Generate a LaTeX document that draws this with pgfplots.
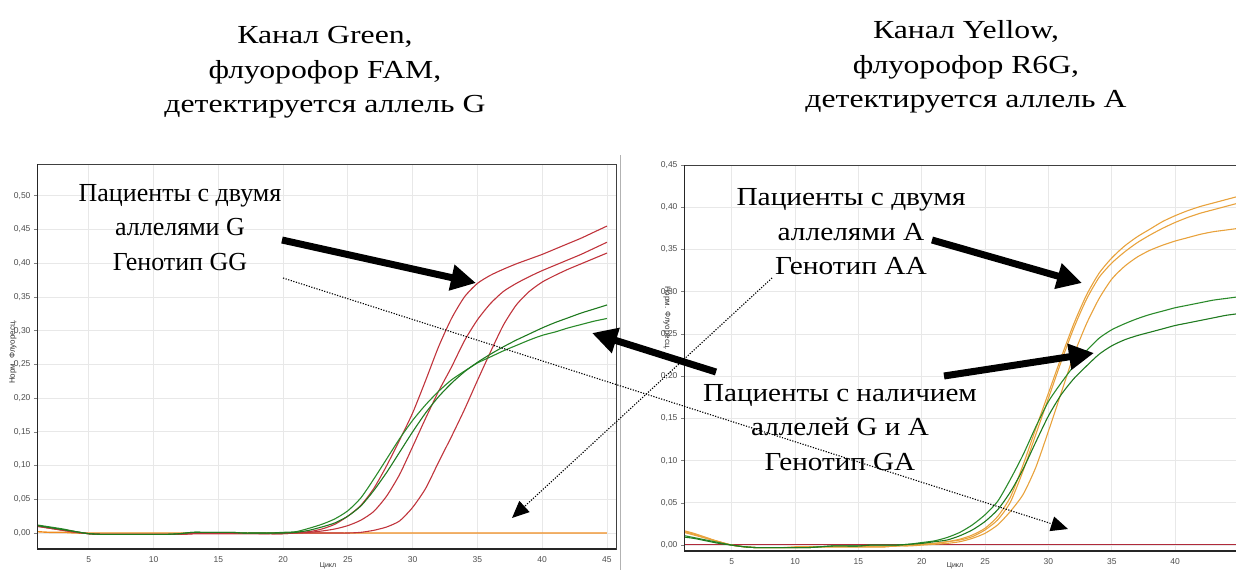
\documentclass[border=0pt]{standalone}
\usepackage{fontspec}
\setmainfont{Liberation Serif}
\newfontfamily\arial{Liberation Sans}
\usepackage{pgfplots}
\usepackage{pgfplotstable}
\usepackage{graphicx}
\pgfplotsset{compat=1.18}
\usetikzlibrary{arrows.meta}

\definecolor{cred}{HTML}{C0343C}
\definecolor{cgreen}{HTML}{2A8A2A}
\definecolor{cgreenb}{HTML}{1F7A1F}
\definecolor{corangeL}{HTML}{F08C1E}
\definecolor{corange}{HTML}{E8A23C}
\definecolor{credR}{HTML}{B02A3A}

\pgfplotstableread{
c  r1     r2     r3     g1     g2     o
1  0.011  0.010  0.010  0.012  0.011  0.002
2  0.008  0.007  0.007  0.009  0.008  0.001
3  0.005  0.004  0.004  0.006  0.005  0.001
4  0.002  0.001  0.001  0.002  0.002  0.000
5  -0.001 -0.001 -0.001 -0.001 -0.001 0.000
6  -0.002 -0.002 -0.002 -0.002 -0.002 0.000
7  -0.002 -0.002 -0.002 -0.002 -0.002 0.000
8  -0.002 -0.002 -0.002 -0.002 -0.002 0.000
9  -0.002 -0.002 -0.002 -0.002 -0.002 0.000
10 -0.002 -0.002 -0.002 -0.002 -0.002 0.000
11 -0.002 -0.002 -0.002 -0.002 -0.002 0.000
12 -0.002 -0.002 -0.002 -0.001 -0.001 0.000
13 -0.001 -0.001 -0.001 0.001  0.001  0.000
14 -0.001 -0.001 -0.001 0.001  0.001  0.000
15 -0.001 -0.001 -0.001 0.001  0.001  0.000
16 -0.001 -0.001 -0.001 0.001  0.001  0.000
17 -0.001 -0.001 -0.001 0.000  0.000  0.000
18 -0.001 -0.001 -0.001 0.000  0.000  0.000
19 -0.001 -0.001 -0.001 0.000  0.000  0.000
20 0.000  -0.001 -0.001 0.001  0.000  0.000
21 0.001  0.000  0.000  0.002  0.001  0.000
22 0.002  0.001  0.000  0.007  0.004  0.000
23 0.006  0.003  0.000  0.013  0.009  0.000
24 0.013  0.006  0.000  0.021  0.015  0.000
25 0.025  0.011  0.000  0.033  0.025  0.000
26 0.041  0.019  0.001  0.052  0.040  0.000
27 0.066  0.032  0.004  0.080  0.063  0.000
28 0.100  0.055  0.009  0.110  0.090  0.000
29 0.138  0.087  0.018  0.140  0.120  0.000
30 0.178  0.128  0.038  0.167  0.150  0.000
31 0.226  0.170  0.066  0.190  0.178  0.000
32 0.276  0.210  0.105  0.210  0.202  0.000
33 0.318  0.246  0.143  0.227  0.222  0.000
34 0.350  0.285  0.183  0.240  0.239  0.000
35 0.370  0.316  0.226  0.252  0.253  0.000
36 0.382  0.340  0.268  0.261  0.265  0.000
37 0.391  0.358  0.308  0.270  0.276  0.000
38 0.399  0.370  0.338  0.278  0.286  0.000
39 0.406  0.380  0.358  0.286  0.295  0.000
40 0.413  0.389  0.372  0.293  0.304  0.000
41 0.421  0.397  0.382  0.298  0.312  0.000
42 0.429  0.405  0.391  0.304  0.319  0.000
43 0.437  0.413  0.399  0.309  0.326  0.000
44 0.446  0.422  0.407  0.314  0.332  0.000
45 0.455  0.431  0.415  0.318  0.338  0.000
}\greentab

\pgfplotstableread{
c  o1     o2     o3     g1     g2     r
1  0.017  0.016  0.018  0.012  0.010  0.001
2  0.013  0.012  0.014  0.009  0.008  0.001
3  0.008  0.008  0.009  0.006  0.005  0.001
4  0.004  0.004  0.004  0.003  0.002  0.001
5  0.000  0.000  0.000  0.000  0.000  0.001
6  -0.002 -0.002 -0.002 -0.002 -0.002 0.001
7  -0.003 -0.003 -0.003 -0.003 -0.003 0.001
8  -0.003 -0.003 -0.003 -0.003 -0.003 0.001
9  -0.003 -0.003 -0.003 -0.003 -0.003 0.001
10 -0.002 -0.003 -0.003 -0.003 -0.003 0.001
11 -0.002 -0.002 -0.003 -0.003 -0.003 0.001
12 -0.002 -0.002 -0.002 -0.002 -0.002 0.001
13 -0.002 -0.002 -0.002 -0.001 -0.001 0.001
14 -0.002 -0.002 -0.002 -0.001 -0.001 0.001
15 -0.002 -0.002 -0.002 -0.001 -0.001 0.001
16 -0.002 -0.002 -0.002 0.000  0.000  0.001
17 -0.002 -0.002 -0.002 0.000  0.000  0.001
18 -0.001 -0.001 -0.001 0.000  0.000  0.001
19 0.000  0.000  -0.001 0.001  0.001  0.001
20 0.001  0.001  0.000  0.003  0.002  0.001
21 0.002  0.002  0.001  0.005  0.004  0.001
22 0.004  0.004  0.002  0.009  0.006  0.001
23 0.007  0.006  0.004  0.015  0.011  0.001
24 0.012  0.010  0.008  0.024  0.018  0.001
25 0.020  0.018  0.014  0.036  0.028  0.001
26 0.034  0.030  0.024  0.052  0.042  0.001
27 0.057  0.051  0.040  0.078  0.063  0.001
28 0.095  0.088  0.060  0.107  0.090  0.001
29 0.138  0.131  0.092  0.140  0.122  0.001
30 0.180  0.174  0.135  0.170  0.153  0.001
31 0.222  0.217  0.180  0.192  0.178  0.001
32 0.262  0.257  0.225  0.212  0.197  0.001
33 0.296  0.291  0.262  0.230  0.212  0.001
34 0.322  0.317  0.292  0.245  0.226  0.001
35 0.340  0.334  0.315  0.255  0.236  0.001
36 0.354  0.347  0.330  0.262  0.243  0.001
37 0.365  0.358  0.341  0.268  0.248  0.001
38 0.374  0.367  0.349  0.273  0.252  0.001
39 0.383  0.375  0.355  0.277  0.256  0.001
40 0.390  0.382  0.360  0.281  0.260  0.001
41 0.396  0.388  0.364  0.284  0.263  0.001
42 0.401  0.393  0.368  0.287  0.266  0.001
43 0.405  0.397  0.371  0.290  0.269  0.001
44 0.409  0.401  0.373  0.292  0.272  0.001
45 0.413  0.405  0.375  0.294  0.274  0.001
}\yellowtab

\pgfplotsset{
  qpcr/.style={
    scale only axis,
    anchor=south west,
    axis line style={draw=black!75, line width=0.8pt},
    grid=major,
    major grid style={draw=black!9, line width=0.8pt},
    xtick={5,10,...,45},
    xtick style={draw=none},
    ytick pos=left,
    ytick style={draw=black!50, line width=0.6pt},
    tick align=outside,
    major tick length=3pt,
    tick label style={font=\arial\fontsize{8.5}{9}\selectfont, text=black!70},
    /pgf/number format/assume math mode=true,
    yticklabel style={/pgf/number format/.cd, fixed, fixed zerofill, precision=2, use comma},
    xticklabel style={yshift=-1pt},
    every axis plot/.append style={line width=1.1pt, smooth, tension=0.4, mark=none},
  }
}

\newcommand{\blk}[2]{\scalebox{#1}[1]{\fontsize{26}{34.5}\selectfont\setlength{\tabcolsep}{0pt}\begin{tabular}{c}#2\end{tabular}}}

\begin{document}
\begin{tikzpicture}
\useasboundingbox (0,0) rectangle (1236pt,-570pt);

% separator between the two screenshots
\draw[black!30, line width=1pt] (620pt,-155pt) -- (620pt,-570pt);

% ---------- Left chart: Green / FAM ----------
\begin{axis}[qpcr, at={(37pt,-549pt)}, width=579pt, height=385pt,
  xmin=1, xmax=45.7, ymin=-0.0237, ymax=0.547,
  ytick={0,0.05,...,0.51}]
  \addplot[corangeL, line width=1.4pt] table[x=c, y=o] {\greentab};
  \addplot[cred] table[x=c, y=r1] {\greentab};
  \addplot[cred] table[x=c, y=r2] {\greentab};
  \addplot[cred] table[x=c, y=r3] {\greentab};
  \addplot[cgreen] table[x=c, y=g1] {\greentab};
  \addplot[cgreenb] table[x=c, y=g2] {\greentab};
  \draw[black!85, line width=1.6pt] (rel axis cs:0,1) -- (rel axis cs:0,0) -- (rel axis cs:1,0);
\end{axis}

% ---------- Right chart: Yellow / R6G ----------
\begin{axis}[qpcr, at={(684pt,-551pt)}, width=552pt, height=386pt,
  xmin=1.24, xmax=44.8, ymin=-0.007, ymax=0.45,
  ytick={0,0.05,...,0.451}]
  \addplot[credR, line width=1.2pt] table[x=c, y=r] {\yellowtab};
  \addplot[corange] table[x=c, y=o1] {\yellowtab};
  \addplot[corange] table[x=c, y=o2] {\yellowtab};
  \addplot[corange] table[x=c, y=o3] {\yellowtab};
  \addplot[cgreen] table[x=c, y=g1] {\yellowtab};
  \addplot[cgreenb] table[x=c, y=g2] {\yellowtab};
  \draw[black!85, line width=1.6pt] (rel axis cs:0,1) -- (rel axis cs:0,0) -- (rel axis cs:1,0);
\end{axis}

% axis labels
\node[rotate=90, font=\arial\fontsize{8}{9}\selectfont, text=black!80] at (13pt,-352pt) {Норм. Флуоресц.};
\node[rotate=-90, font=\arial\fontsize{8}{9}\selectfont, text=black!80] at (667pt,-318pt) {Норм. Флуоресц.};
\node[anchor=south, inner sep=0.5pt, font=\arial\fontsize{7}{8}\selectfont, text=black!80] at (328pt,-570pt) {Цикл};
\node[anchor=south, inner sep=0.5pt, font=\arial\fontsize{7}{8}\selectfont, text=black!80] at (955pt,-570pt) {Цикл};

% titles and annotations
\node[inner sep=0pt] at (325pt,-71.5pt) {\blk{1.22}{Канал Green,\\флуорофор FAM,\\детектируется аллель G}};
\node[inner sep=0pt] at (966pt,-66.5pt) {\blk{1.22}{Канал Yellow,\\флуорофор R6G,\\детектируется аллель A}};
\node[inner sep=0pt] at (180pt,-229pt) {\blk{1}{Пациенты с двумя\\аллелями G\\Генотип GG}};
\node[inner sep=0pt] at (851pt,-233.5pt) {\blk{1.13}{Пациенты с двумя\\аллелями A\\Генотип AA}};
\node[inner sep=0pt] at (840pt,-429pt) {\blk{1.12}{Пациенты с наличием\\аллелей G и A\\Генотип GA}};

% thick arrows
\begin{scope}[line width=7pt, -{Triangle[length=25pt,width=25pt]}]
\draw (282pt,-240pt) -- (476pt,-283pt);
\draw (716pt,-372pt) -- (592pt,-333pt);
\draw (932pt,-240pt) -- (1082pt,-283pt);
\draw (944pt,-376pt) -- (1094pt,-353pt);
\end{scope}

% dotted arrows
\begin{scope}[line width=1.1pt, dash pattern=on 1.2pt off 1.5pt, -{Triangle[length=17pt,width=15pt]}]
\draw (283pt,-278pt) -- (1068pt,-529pt);
\draw (772pt,-278pt) -- (512pt,-518pt);
\end{scope}
\end{tikzpicture}
\end{document}
